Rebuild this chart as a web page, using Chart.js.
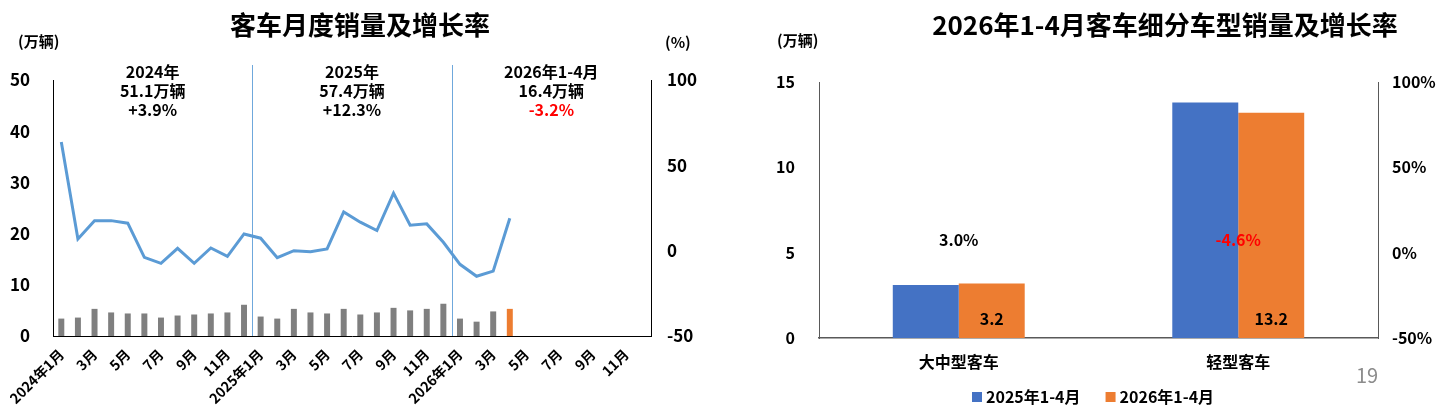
<!DOCTYPE html>
<html><head><meta charset="utf-8">
<script src="https://cdn.jsdelivr.net/npm/chart.js@4.4.0/dist/chart.umd.min.js"></script>
<style>html,body{margin:0;padding:0;background:#fff;overflow:hidden}#c1{position:absolute;left:0;top:0}#c2{position:absolute;left:720px;top:0}</style>
</head><body>
<canvas id="c1" width="720" height="410"></canvas>
<canvas id="c2" width="722" height="410"></canvas>
<script>
const FONT = "'Noto Sans CJK SC','Noto Sans',sans-serif";

// ---------- Left chart data ----------
const monthLabels = [
  '2024年1月','2月','3月','4月','5月','6月','7月','8月','9月','10月','11月','12月',
  '2025年1月','2月','3月','4月','5月','6月','7月','8月','9月','10月','11月','12月',
  '2026年1月','2月','3月','4月','5月','6月','7月','8月','9月','10月','11月','12月'
];
const monthlySales = [3.4,3.6,5.3,4.6,4.4,4.4,3.6,4.0,4.2,4.4,4.6,6.1,
                      3.8,3.4,5.3,4.6,4.4,5.3,4.2,4.6,5.5,5.0,5.3,6.3,
                      3.4,2.8,4.8,5.3];
const monthlyGrowth = [63.7,6.9,17.6,17.6,16.1,-3.9,-7.4,1.4,-7.4,1.6,-3.3,9.8,
                       7.3,-4.1,0,-0.6,1.0,22.7,16.7,11.8,33.7,14.9,15.7,4.9,
                       -8,-15,-12,19];
const salesTicks = [0,10,20,30,40,50];
const growthTicks = [-50,0,50,100];
const summaryPeriods = ['2024年','2025年','2026年1-4月'];
const summaryVolumes = ['51.1万辆','57.4万辆','16.4万辆'];
const summaryGrowth = ['+3.9%','+12.3%','-3.2%'];

// ---------- Right chart data ----------
const segCategories = ['大中型客车','轻型客车'];
const seg2025 = [3.1, 13.8];
const seg2026 = [3.2, 13.2];
const segGrowth = [3.0, -4.6];
const segSalesTicks = [0,5,10,15];
const segGrowthTicks = [-50,0,50,100];
const segLegend = ['2025年1-4月','2026年1-4月'];

const GRAY='#7F7F7F', ORANGE='#ED7D31', BLUE='#4472C4', LINE='#5B9BD5', SEP='#6FA8DC';

function txt(ctx, s, x, y, size, color, align, weight){
  ctx.save();
  ctx.font = (weight||'bold')+' '+size+'px '+FONT;
  ctx.fillStyle = color||'#000';
  ctx.textAlign = align||'center';
  ctx.textBaseline = 'middle';
  ctx.fillText(s, x, y);
  ctx.restore();
}

const leftDecor = {
  id:'leftDecor',
  beforeDatasetsDraw(chart){
    const {ctx, chartArea, scales:{x}} = chart;
    ctx.save();
    ctx.strokeStyle = SEP; ctx.lineWidth = 1;
    [12,24].forEach(i=>{
      const px = Math.round((x.getPixelForValue(i-1)+x.getPixelForValue(i))/2)+0.5;
      ctx.beginPath(); ctx.moveTo(px, chartArea.top-15); ctx.lineTo(px, chartArea.bottom); ctx.stroke();
    });
    ctx.restore();
  },
  afterDraw(chart){
    const {ctx, chartArea, scales:{x}} = chart;
    txt(ctx,'客车月度销量及增长率',360,25,26,'#000');
    txt(ctx,'(万辆)',18,41,15,'#000','left');
    txt(ctx,'(%)',665,42,15,'#000','left');
    summaryPeriods.forEach((p,k)=>{
      const cx = (x.getPixelForValue(k*12+5)+x.getPixelForValue(k*12+6))/2;
      txt(ctx,p,cx,chartArea.top-8,16,'#000');
      txt(ctx,summaryVolumes[k],cx,chartArea.top+11,16,'#000');
      txt(ctx,summaryGrowth[k],cx,chartArea.top+30,16,summaryGrowth[k].startsWith('-')?'#FF0000':'#000');
    });
  }
};

new Chart(document.getElementById('c1'),{
  type:'bar',
  data:{
    labels: monthLabels,
    datasets:[
      {type:'line', data: monthlyGrowth, yAxisID:'y1', borderColor:LINE, borderWidth:3,
       pointRadius:0, tension:0, fill:false, order:0},
      {type:'bar', data: monthlySales, yAxisID:'y',
       backgroundColor: c => c.dataIndex === monthlySales.length-1 ? ORANGE : GRAY,
       barPercentage:0.36, categoryPercentage:1, order:1}
    ]
  },
  options:{
    responsive:false, animation:false,
    layout:{padding:{top:80,left:0,right:0,bottom:0}},
    plugins:{legend:{display:false}, tooltip:{enabled:false}},
    scales:{
      x:{
        grid:{display:false, drawTicks:false},
        border:{display:true, color:'#000', width:1},
        ticks:{autoSkip:false, maxRotation:45, minRotation:45, padding:10,
               color:'#000', font:{family:FONT, size:14, weight:'bold'},
               callback:(v,i)=> i%2===0 ? monthLabels[i] : ''},
        afterFit:s=>{s.height=74; s.paddingLeft=0; s.paddingRight=0;}
      },
      y:{
        position:'left', min:0, max:50,
        afterBuildTicks:s=>{s.ticks = salesTicks.map(v=>({value:v}));},
        grid:{display:false, drawTicks:false},
        border:{display:true, color:'#000', width:1},
        ticks:{padding:23, color:'#000', font:{family:FONT, size:17, weight:'bold'}},
        afterFit:s=>{s.width=53;}
      },
      y1:{
        position:'right', min:-50, max:100,
        afterBuildTicks:s=>{s.ticks = growthTicks.map(v=>({value:v}));},
        grid:{display:false, drawTicks:false},
        border:{display:true, color:'#000', width:1},
        ticks:{padding:16, color:'#000', font:{family:FONT, size:17, weight:'bold'}},
        afterFit:s=>{s.width=69;}
      }
    }
  },
  plugins:[leftDecor]
});

const rightDecor = {
  id:'rightDecor',
  afterDraw(chart){
    const {ctx, chartArea, scales:{y, y1}} = chart;
    txt(ctx,'2026年1-4月客车细分车型销量及增长率',445,25,26,'#000');
    txt(ctx,'(万辆)',57,40,15,'#000','left');
    // bar value labels (2026)
    const m = chart.getDatasetMeta(1);
    m.data.forEach((b,i)=>{
      txt(ctx, seg2026[i].toFixed(1), b.x, y.getPixelForValue(0)-19, 16, '#000');
    });
    // growth labels
    const g = chart.getDatasetMeta(2);
    g.data.forEach((p,i)=>{
      const v = segGrowth[i];
      txt(ctx, v.toFixed(1)+'%', chart.scales.x.getPixelForValue(i), y1.getPixelForValue(0)-13, 16, v<0?'#FF0000':'#000');
    });
    // legend
    const colors=[BLUE,ORANGE];
    let lx = 252;
    ctx.save();
    segLegend.forEach((s,i)=>{
      ctx.fillStyle = colors[i];
      ctx.fillRect(lx, 392, 10, 10);
      txt(ctx, s, lx+14, 397, 16, '#000', 'left');
      ctx.font = 'bold 16px '+FONT;
      lx += 14 + ctx.measureText(s).width + 25;
    });
    ctx.restore();
    txt(ctx,'19',647,375,20,'#8C8C8C','center','normal');
  }
};

new Chart(document.getElementById('c2'),{
  type:'bar',
  data:{
    labels: segCategories,
    datasets:[
      {data: seg2025, backgroundColor:BLUE, yAxisID:'y', barPercentage:1, categoryPercentage:0.472},
      {data: seg2026, backgroundColor:ORANGE, yAxisID:'y', barPercentage:1, categoryPercentage:0.472},
      {type:'line', data: segGrowth, yAxisID:'y1', showLine:false, pointRadius:0, borderColor:'transparent'}
    ]
  },
  options:{
    responsive:false, animation:false,
    layout:{padding:{top:82,left:0,right:0,bottom:0}},
    plugins:{legend:{display:false}, tooltip:{enabled:false}},
    scales:{
      x:{
        grid:{display:false, drawTicks:false},
        border:{display:true, color:'#595959', width:1.5},
        ticks:{padding:14, color:'#000', font:{family:FONT, size:16, weight:'bold'}},
        afterFit:s=>{s.height=72; s.paddingLeft=0; s.paddingRight=0;}
      },
      y:{
        position:'left', min:0, max:15,
        afterBuildTicks:s=>{s.ticks = segSalesTicks.map(v=>({value:v}));},
        grid:{display:false, drawTicks:false},
        border:{display:true, color:'#595959', width:1},
        ticks:{padding:24, color:'#000', font:{family:FONT, size:16, weight:'bold'}},
        afterFit:s=>{s.width=99;}
      },
      y1:{
        position:'right', min:-50, max:100,
        afterBuildTicks:s=>{s.ticks = segGrowthTicks.map(v=>({value:v}));},
        grid:{display:false, drawTicks:false},
        border:{display:true, color:'#595959', width:1},
        ticks:{padding:14, color:'#000', font:{family:FONT, size:16, weight:'bold'}, callback:v=>v+'%'},
        afterFit:s=>{s.width=64;}
      }
    }
  },
  plugins:[rightDecor]
});
</script>
</body></html>
